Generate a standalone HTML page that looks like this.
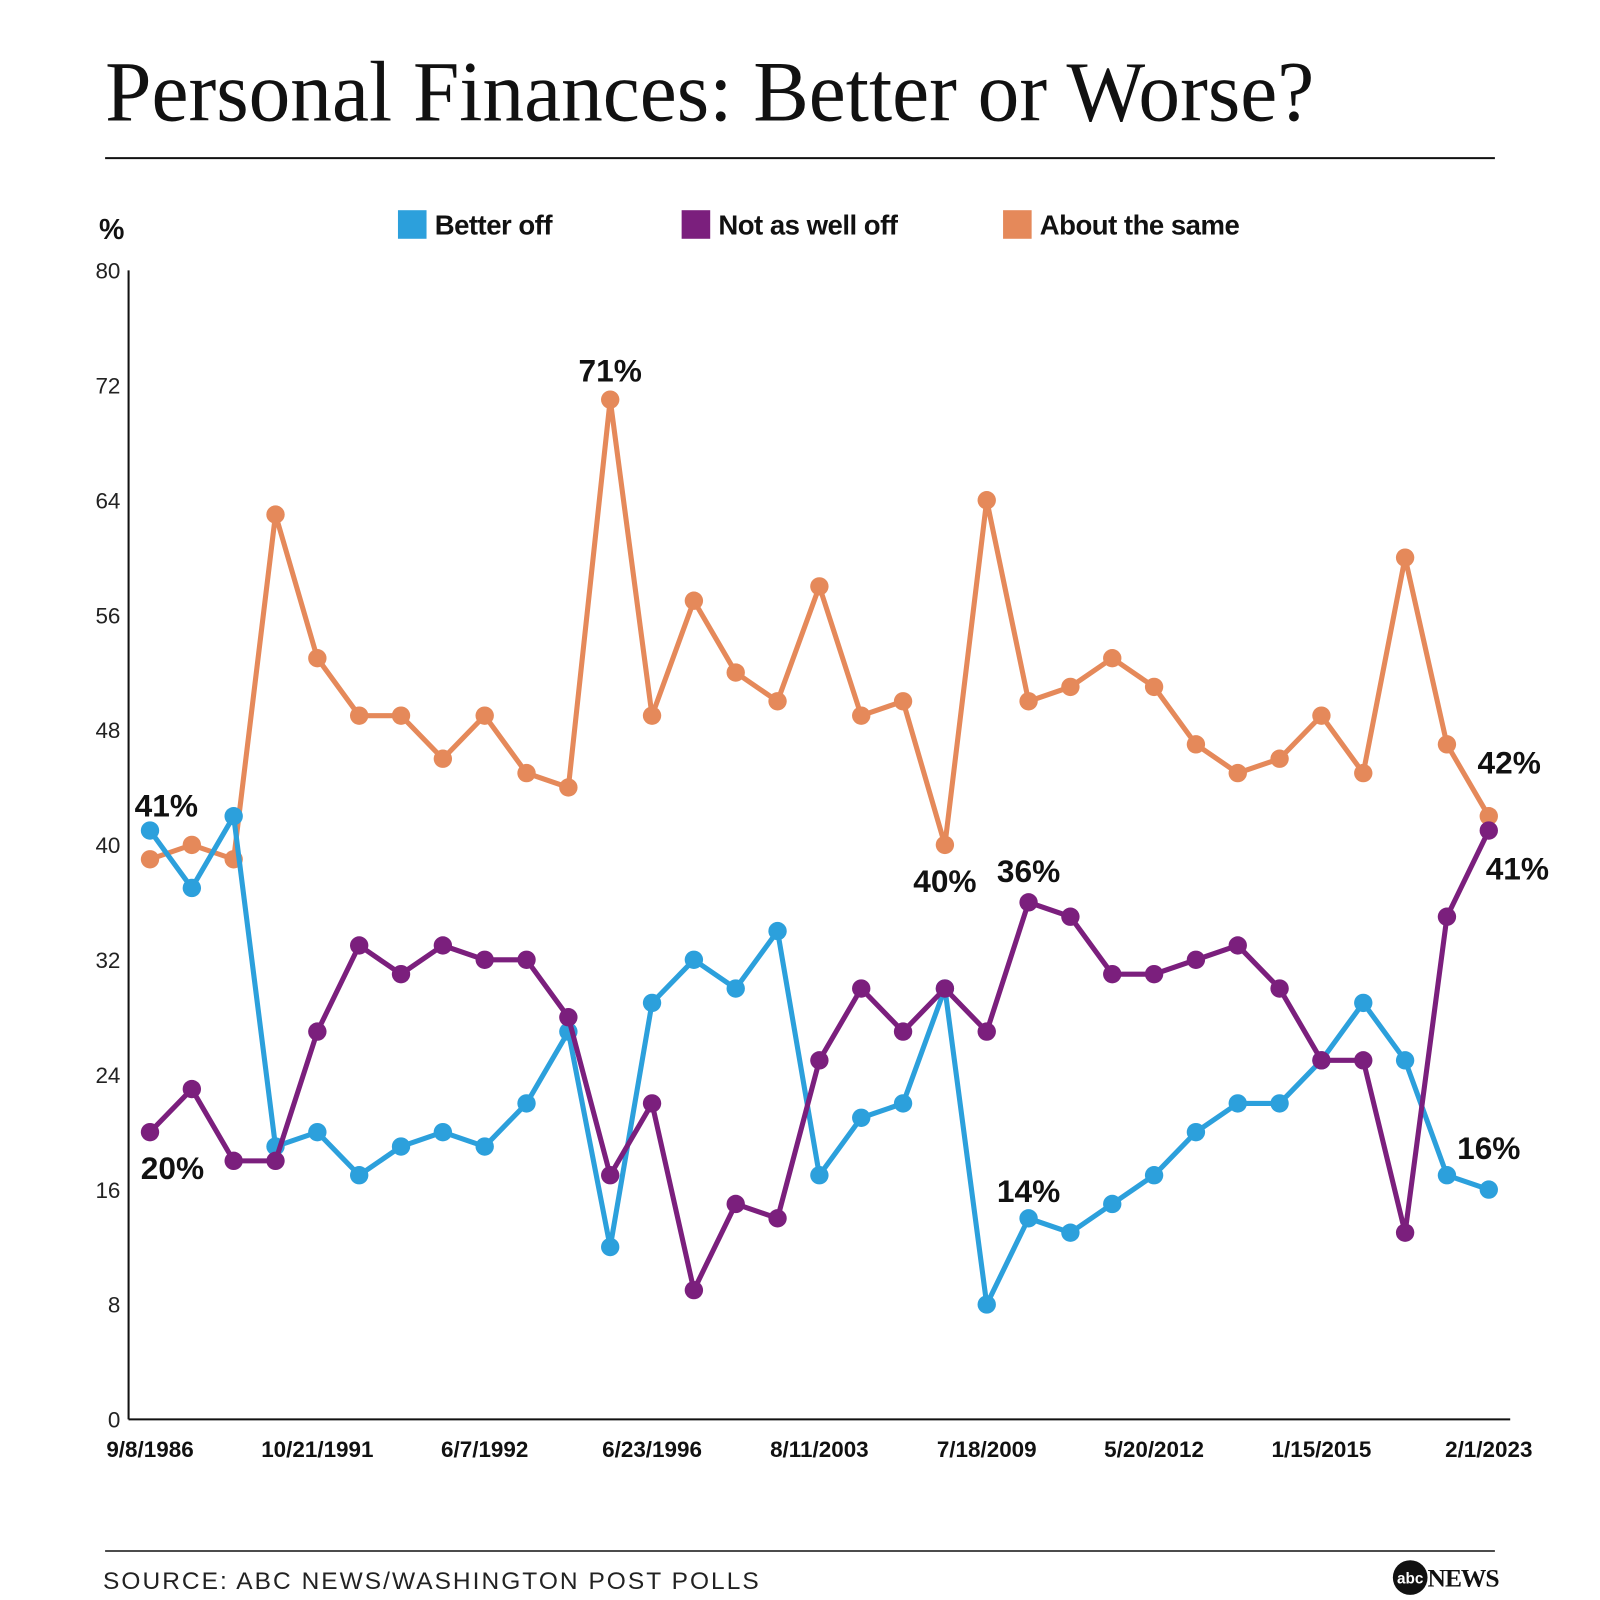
<!DOCTYPE html>
<html><head><meta charset="utf-8"><style>
html,body{margin:0;padding:0;background:#fff;}
svg{display:block;}
text{font-family:"Liberation Sans",sans-serif;}
</style></head><body>
<svg id="chart" width="1600" height="1600" viewBox="0 0 1568 1568" xmlns="http://www.w3.org/2000/svg">
<rect width="1568" height="1568" fill="#fff"/>
<text x="103" y="118" style="font-family:'Liberation Serif',serif" font-size="84" textLength="1185" lengthAdjust="spacingAndGlyphs" fill="#111">Personal Finances: Better or Worse?</text>
<line x1="103" y1="155" x2="1465" y2="155" stroke="#111" stroke-width="2"/>
<text x="97" y="234" font-size="28" font-weight="bold" fill="#111">%</text>
<g>
<rect x="390" y="206" width="28" height="28" fill="#2ca0dc"/>
<text x="426" y="230" font-size="27" font-weight="bold" fill="#111" letter-spacing="-0.5">Better off</text>
<rect x="668" y="206" width="28" height="28" fill="#7b1f7d"/>
<text x="704" y="230" font-size="27" font-weight="bold" fill="#111" letter-spacing="-0.5">Not as well off</text>
<rect x="983" y="206" width="28" height="28" fill="#e5895a"/>
<text x="1019" y="230" font-size="27" font-weight="bold" fill="#111" letter-spacing="-0.5">About the same</text>
</g>
<g id="axes"></g>
<g id="series"></g>
<g id="labels"></g>
<line x1="103" y1="1520" x2="1465" y2="1520" stroke="#111" stroke-width="1.5"/>
<text x="101" y="1557" font-size="24" fill="#222" letter-spacing="2">SOURCE: ABC NEWS/WASHINGTON POST POLLS</text>
<g>
<circle cx="1382" cy="1546" r="17" fill="#111"/>
<text x="1382" y="1552" font-size="15" font-weight="bold" fill="#fff" text-anchor="middle">abc</text>
<text x="1399" y="1555" style="font-family:'Liberation Serif',serif" font-size="25" font-weight="bold" fill="#111" letter-spacing="-1">NEWS</text>
</g>
</svg>
<script>
const xTickLabels = ["9/8/1986","10/21/1991","6/7/1992","6/23/1996","8/11/2003","7/18/2009","5/20/2012","1/15/2015","2/1/2023"];
const xTickIndex = [0,4,8,12,16,20,24,28,32];
const yTicks = [0,8,16,24,32,40,48,56,64,72,80];
const betterOff = [41,37,42,19,20,17,19,20,19,22,27,12,29,32,30,34,17,21,22,30,8,14,13,15,17,20,22,22,25,29,25,17,16];
const notAsWellOff = [20,23,18,18,27,33,31,33,32,32,28,17,22,9,15,14,25,30,27,30,27,36,35,31,31,32,33,30,25,25,13,35,41];
const aboutTheSame = [39,40,39,63,53,49,49,46,49,45,44,71,49,57,52,50,58,49,50,40,64,50,51,53,51,47,45,46,49,45,60,47,42];
const annotations = [
 {s:"betterOff", i:0, t:"41%", dx:16, dy:-14},
 {s:"notAsWellOff", i:0, t:"20%", dx:22, dy:46},
 {s:"aboutTheSame", i:11, t:"71%", dx:0, dy:-18},
 {s:"aboutTheSame", i:19, t:"40%", dx:0, dy:46},
 {s:"notAsWellOff", i:21, t:"36%", dx:0, dy:-20},
 {s:"betterOff", i:21, t:"14%", dx:0, dy:-16},
 {s:"aboutTheSame", i:32, t:"42%", dx:20, dy:-42},
 {s:"notAsWellOff", i:32, t:"41%", dx:28, dy:48},
 {s:"betterOff", i:32, t:"16%", dx:0, dy:-30}
];
const NS="http://www.w3.org/2000/svg";
const x0=147, x1=1459, yBase=1391, yTop=265;
const xScale = i => x0 + (x1-x0)*i/32;
const yScale = v => yBase - (yBase-yTop)*v/80;
function mk(tag, attrs, parent){const e=document.createElementNS(NS,tag);for(const k in attrs)e.setAttribute(k,attrs[k]);parent.appendChild(e);return e;}
const axes=document.getElementById('axes');
const yAxis=mk('line',{x1:126,y1:yTop,x2:126,y2:yBase,stroke:'#111','stroke-width':2},axes);


const xAxis=mk('line',{x1:126,y1:yBase,x2:1480,y2:yBase,stroke:'#111','stroke-width':2},axes);


yTicks.forEach(v=>{
 const t=mk('text',{x:118,y:yScale(v)+8,'font-size':22,'text-anchor':'end',fill:'#222'},axes);
 t.textContent=v;
 
 
});
xTickLabels.forEach((lab,k)=>{
 const t=mk('text',{x:xScale(xTickIndex[k]),y:1428,'font-size':22,'font-weight':'bold','text-anchor':'middle',fill:'#111'},axes);
 t.textContent=lab;
 
 
});
const seriesMap={aboutTheSame:[aboutTheSame,'#e5895a','about-the-same'],betterOff:[betterOff,'#2ca0dc','better-off'],notAsWellOff:[notAsWellOff,'#7b1f7d','not-as-well-off']};
const sg=document.getElementById('series');
['aboutTheSame','betterOff','notAsWellOff'].forEach(key=>{
 const [vals,col,nm]=seriesMap[key];
 const g=mk('g',{},sg);
 
 
 const pl=mk('polyline',{points:vals.map((v,i)=>xScale(i)+','+yScale(v)).join(' '),fill:'none',stroke:col,'stroke-width':5,'stroke-linejoin':'round'},g);
 
 
 vals.forEach((v,i)=>{
  const c=mk('circle',{cx:xScale(i),cy:yScale(v),r:9,fill:col},g);
  
  
 });
});
const lg=document.getElementById('labels');
annotations.forEach(a=>{
 const v=seriesMap[a.s][0][a.i];
 const t=mk('text',{x:xScale(a.i)+a.dx,y:yScale(v)+a.dy,'font-size':31,'font-weight':'bold','text-anchor':'middle',fill:'#111'},lg);
 t.textContent=a.t;
 
 
});
</script>
</body></html>
